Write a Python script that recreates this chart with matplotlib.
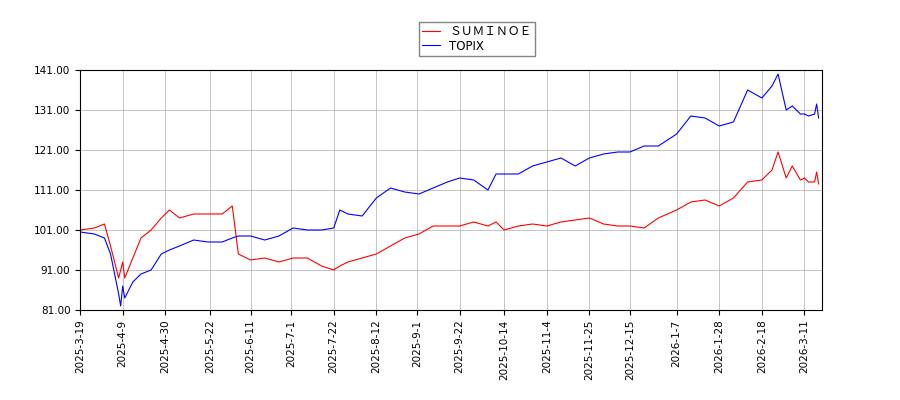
import matplotlib
matplotlib.use("Agg")
import matplotlib.pyplot as plt
import pandas as pd

plt.rcParams['font.family'] = ['DejaVu Sans', 'Noto Sans CJK JP']

dates = ["2025-03-19","2025-03-26","2025-03-31","2025-04-03","2025-04-07","2025-04-08","2025-04-09","2025-04-10",
"2025-04-14","2025-04-18","2025-04-23","2025-04-28","2025-05-02","2025-05-07","2025-05-14","2025-05-21","2025-05-28",
"2025-06-02","2025-06-05","2025-06-11","2025-06-18","2025-06-25","2025-07-02","2025-07-09","2025-07-16","2025-07-22",
"2025-07-25","2025-07-29","2025-08-05","2025-08-12","2025-08-19","2025-08-26","2025-09-02","2025-09-09","2025-09-16",
"2025-09-22","2025-09-29","2025-10-06","2025-10-10","2025-10-14","2025-10-21","2025-10-28","2025-11-04","2025-11-11",
"2025-11-18","2025-11-25","2025-12-02","2025-12-09","2025-12-15","2025-12-22","2025-12-29","2026-01-07","2026-01-14",
"2026-01-21","2026-01-28","2026-02-04","2026-02-11","2026-02-18","2026-02-23","2026-02-26","2026-03-02","2026-03-05",
"2026-03-09","2026-03-11","2026-03-13","2026-03-16","2026-03-17","2026-03-18"]
suminoe = [101,101.5,102.5,97,89,91,93,89,94,99,101,104,106,104,105,105,105,
107,95,93.5,94,93,94,94,92,91,
92,93,94,95,97,99,100,102,102,
102,103,102,103,101,102,102.5,102,103,
103.5,104,102.5,102,102,101.5,104,106,108,
108.5,107,109,113,113.5,116,120.5,114,117,
113.5,114,113,113,115.5,112.5]
topix = [100.5,100,99,95,85,82,87,84,88,90,91,95,96,97,98.5,98,98,
99,99.5,99.5,98.5,99.5,101.5,101,101,101.5,
106,105,104.5,109,111.5,110.5,110,111.5,113,
114,113.5,111,115,115,115,117,118,119,
117,119,120,120.5,120.5,122,122,125,129.5,
129,127,128,136,134,137,140,131,132,
130,130,129.5,130,132.5,129]
tick_dates = ["2025-3-19","2025-4-9","2025-4-30","2025-5-22","2025-6-11","2025-7-1","2025-7-22","2025-8-12",
"2025-9-1","2025-9-22","2025-10-14","2025-11-4","2025-11-25","2025-12-15","2026-1-7","2026-1-28","2026-2-18","2026-3-11"]

x = pd.to_datetime(dates)
fig = plt.figure(figsize=(9, 4), dpi=100)
ax = fig.add_axes([0.089, 0.225, 0.824, 0.6])
ax.plot(x, suminoe, color='red', lw=0.8, label='ＳＵＭＩＮＯＥ')
ax.plot(x, topix, color='blue', lw=0.8, label='TOPIX')
ax.set_ylim(81, 141)
ax.set_yticks([81,91,101,111,121,131,141])
ax.set_yticklabels([f"{v:.2f}" for v in [81,91,101,111,121,131,141]])
ax.set_xlim(pd.Timestamp("2025-03-19"), pd.Timestamp("2026-03-19 12:00"))
tx = pd.to_datetime(tick_dates)
ax.set_xticks(tx)
ax.set_xticklabels(tick_dates, rotation=90)
ax.tick_params(labelsize=7.5)
ax.grid(True, color='#bbbbbb', lw=0.6)
fig.legend(loc='upper center', bbox_to_anchor=(0.53, 0.96), fontsize=8.5, frameon=True,
           fancybox=False, edgecolor='#666666', handlelength=1.5, borderpad=0.3, labelspacing=0.1)
fig.savefig("out.png")
